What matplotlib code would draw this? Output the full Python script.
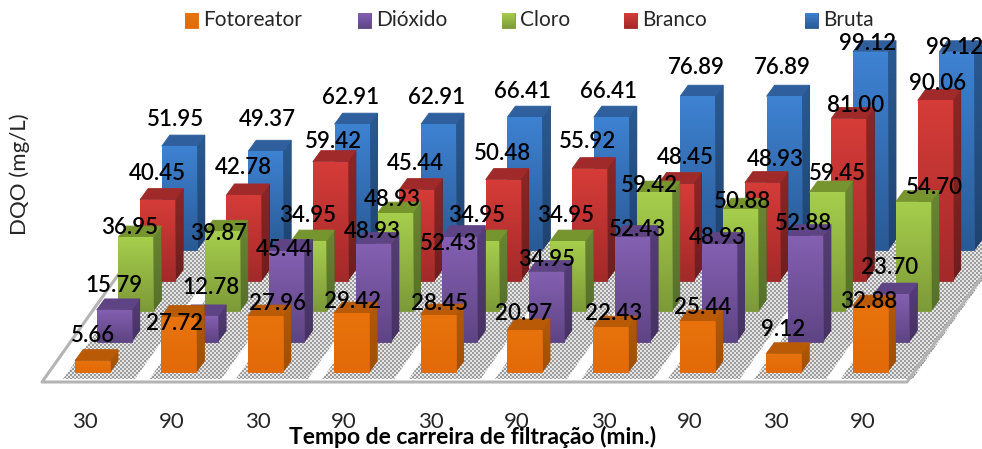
import numpy as np
import matplotlib
matplotlib.use('Agg')
import matplotlib.pyplot as plt
from matplotlib.colors import LinearSegmentedColormap
from matplotlib.patches import Polygon

plt.rcParams['font.family'] = ['Lato', 'DejaVu Sans']

tempo = ['30', '90', '30', '90', '30', '90', '30', '90', '30', '90']
series_names = ['Fotoreator', 'Dióxido', 'Cloro', 'Branco', 'Bruta']

fotoreator = [5.66, 27.72, 27.96, 29.42, 28.45, 20.97, 22.43, 25.44, 9.12, 32.88]
dioxido = [15.79, 12.78, 45.44, 48.93, 52.43, 34.95, 52.43, 48.93, 52.88, 23.70]
cloro = [36.95, 39.87, 34.95, 48.93, 34.95, 34.95, 59.42, 50.88, 59.45, 54.70]
branco = [40.45, 42.78, 59.42, 45.44, 50.48, 55.92, 48.45, 48.93, 81.00, 90.06]
bruta = [51.95, 49.37, 62.91, 62.91, 66.41, 66.41, 76.89, 76.89, 99.12, 99.12]
all_series = [fotoreator, dioxido, cloro, branco, bruta]

# label spots (Excel put them a bit all over the place)
label_xy = [
    [(93, 336), (175, 323), (278, 303), (353, 301), (440, 303), (524, 314), (614, 313), (703, 308), (783, 329), (869, 302)],
    [(114, 285), (211, 288), (284, 249), (372, 232), (449, 244), (547, 259), (638, 230), (717, 237), (803, 223), (890, 268)],
    [(130, 227), (219, 233), (308, 216), (392, 199), (477, 216), (566, 215), (649, 186), (742, 201), (837, 174), (934, 188)],
    [(157, 173), (243, 168), (333, 141), (415, 164), (502, 153), (588, 142), (685, 157), (775, 160), (856, 105), (938, 84)],
    [(176, 120), (267, 120), (351, 98), (437, 98), (523, 91), (609, 91), (696, 68), (782, 68), (868, 44), (955, 47)],
]

# (front top, front bottom, side top, side bottom, lid)
colors = [
    ('#E8730C', '#E26A08', '#B05A0A', '#A04F06', '#B85A06'),
    ('#8560B2', '#5F4585', '#553D78', '#463262', '#5E4485'),
    ('#A6CE4C', '#7D9A38', '#6A8532', '#55702A', '#77952F'),
    ('#D63C38', '#A32A2A', '#8C2626', '#6E1E1E', '#A02A2A'),
    ('#3E82D2', '#2A5A95', '#2A5A92', '#1F4370', '#2F5F9C'),
]

# oblique projection of the 3D chart, in image pixels
x_start, x_step = 75, 86.4
x_depth, y_depth = 21.7, 30.5
y_front = 372
y_per_unit = 2.0
bar_w = 35
lid_dx, lid_dy = 8, 11

fig = plt.figure(figsize=(9.82, 4.49), dpi=100)
ax = fig.add_axes([0, 0, 1, 1])
ax.set_xlim(0, 982)
ax.set_ylim(449, 0)
ax.autoscale(False)
ax.axis('off')


def grad_poly(verts, top, bottom, z):
    """Polygon filled with a vertical gradient, flat colour under it to hide seams."""
    verts = np.array(verts)
    ax.add_patch(Polygon(verts, closed=True, facecolor=bottom, edgecolor=bottom, lw=0.6, zorder=z))
    cmap = LinearSegmentedColormap.from_list('g', [top, bottom])
    im = ax.imshow(np.linspace(0, 1, 64).reshape(-1, 1), cmap=cmap, aspect='auto', zorder=z + 0.1,
                   extent=[verts[:, 0].min(), verts[:, 0].max(), verts[:, 1].max(), verts[:, 1].min()])
    im.set_clip_path(Polygon(verts, transform=ax.transData))


# floor
fl_back = 240
fl_dx = (382 - fl_back) * x_depth / y_depth
ax.add_patch(Polygon([(42, 382), (907, 382), (907 + fl_dx, fl_back), (42 + fl_dx, fl_back)],
                     closed=True, facecolor='white', edgecolor='none', zorder=1))
ax.plot([42 + 76, 42, 907, 907 + fl_dx], [275, 382, 382, fl_back], color='#b4b4b4', lw=2.2, zorder=3)

# stipple bands under each category
yy, xx = np.mgrid[0:449, 0:982]
stipple = ((xx // 2 + yy // 2) % 2).astype(float)
stipple_cmap = LinearSegmentedColormap.from_list('s', ['#9c9c9c', '#e6e6e6'])
for c in range(len(tempo)):
    left = x_start + c * x_step - 12
    right = left + 72
    h = 378 - fl_back
    d = h * x_depth / y_depth
    im = ax.imshow(stipple, cmap=stipple_cmap, interpolation='nearest', aspect='auto', zorder=2,
                   extent=[0, 982, 449, 0])
    im.set_clip_path(Polygon([(left, 379), (right, 379), (right + d, fl_back), (left + d, fl_back)],
                             transform=ax.transData))

# bars, back row first
z = 10
for s in range(len(all_series) - 1, -1, -1):
    front, front2, side, side2, lid = colors[s]
    for c, value in enumerate(all_series[s]):
        x0 = x_start + c * x_step + s * x_depth
        x1 = x0 + bar_w
        yb = y_front - s * y_depth
        yt = yb - value * y_per_unit
        grad_poly([(x1, yt), (x1 + lid_dx, yt - lid_dy), (x1 + lid_dx, yb - lid_dy), (x1, yb)], side, side2, z)
        ax.add_patch(Polygon([(x0, yt), (x0 + lid_dx, yt - lid_dy), (x1 + lid_dx, yt - lid_dy), (x1, yt)],
                             closed=True, facecolor=lid, edgecolor=lid, lw=0.6, zorder=z + 0.2))
        grad_poly([(x0, yt), (x1, yt), (x1, yb), (x0, yb)], front, front2, z + 0.5)
        z += 1

# value labels
for s, values in enumerate(all_series):
    for c, value in enumerate(values):
        lx, ly = label_xy[s][c]
        ax.text(lx, ly, f'{value:.2f}', ha='center', va='center', fontsize=16, color='black',
                weight='semibold', zorder=500)

# category labels and axis titles
for c, t in enumerate(tempo):
    ax.text(85 + c * x_step, 422, t, ha='center', va='center', fontsize=16, color='#262626', zorder=500)
ax.text(473, 437, 'Tempo de carreira de filtração (min.)', ha='center', va='center', fontsize=16.5,
        weight='bold', color='black', zorder=501)
ax.text(20, 174, 'DQO (mg/L)', rotation=90, ha='center', va='center', fontsize=16, color='#262626', zorder=500)

# legend
legend_x = [185, 358, 502, 624, 805]
for s, name in enumerate(series_names):
    lx = legend_x[s]
    grad_poly([(lx, 13), (lx + 13, 13), (lx + 13, 28), (lx, 28)], colors[s][0], colors[s][1], 500)
    ax.text(lx + 18, 20.5, name, ha='left', va='center', fontsize=15, color='#262626', zorder=500)

fig.savefig('out.png', dpi=100, facecolor='white')
